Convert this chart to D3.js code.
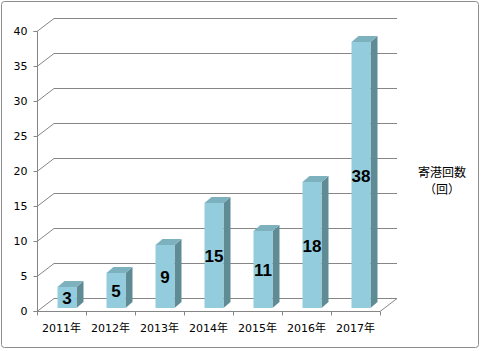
<!DOCTYPE html>
<html><head><meta charset="utf-8">
<script src="https://cdn.jsdelivr.net/npm/d3@7"></script>
<style>body{margin:0;background:#fff}</style>
</head><body>
<svg id="c" width="481" height="351"></svg>
<script>
const categories = ["2011年","2012年","2013年","2014年","2015年","2016年","2017年"];
const values = [3,5,9,15,11,18,38];
const yTicks = [0,5,10,15,20,25,30,35,40];
const seriesName = ["寄港回数","（回）"];

(function(){
const svg = d3.select("#c");
const font = "'DejaVu Sans','Noto Sans CJK JP',sans-serif";
const grid = "#868686";
const pLeft = 37, pRight = 380, pTop = 31, pBottom = 311;
const depth = {dx:17, dy:-13};

svg.append("rect").attr("x",1.5).attr("y",1.5).attr("width",477).attr("height",346)
  .attr("rx",3).attr("fill","#fff").attr("stroke","#8c8c8c").attr("stroke-width",1);

const x = d3.scaleBand().domain(categories).range([pLeft,pRight]).padding(0);
const y = d3.scaleLinear().domain([0,40]).range([pBottom,pTop]);

const g = svg.append("g");
yTicks.forEach(v=>{
  const yy = Math.round(y(v))+0.5;
  g.append("path").attr("d",`M${pLeft},${yy}L${pLeft+depth.dx},${yy+depth.dy}L${pRight+depth.dx},${yy+depth.dy}`)
   .attr("fill","none").attr("stroke",grid).attr("stroke-width",1);
});
g.append("path").attr("d",`M${pRight},${pBottom+0.5}L${pRight+depth.dx},${pBottom+0.5+depth.dy}`)
  .attr("stroke",grid).attr("fill","none");

const yAxis = d3.axisLeft(y).tickValues(yTicks).tickSize(4).tickPadding(6);
const ya = svg.append("g").attr("transform",`translate(${pLeft+0.5},0)`).call(yAxis);
ya.select(".domain").attr("stroke",grid).attr("d",`M-4,${Math.round(y(40))+0.5}H0V${pBottom+0.5}H-4`);
ya.selectAll(".tick line").attr("stroke",grid);
ya.selectAll(".tick text").attr("font-family",font).attr("font-size",11).attr("fill","#000");

const xa = svg.append("g").attr("transform",`translate(0,${pBottom+0.5})`);
xa.append("line").attr("x1",pLeft).attr("x2",pRight).attr("stroke",grid);
const bounds = categories.map(c=>x(c)).concat([pRight]);
xa.selectAll("line.t").data(bounds).join("line").attr("class","t")
  .attr("x1",d=>Math.round(d)+0.5).attr("x2",d=>Math.round(d)+0.5).attr("y1",0).attr("y2",4).attr("stroke",grid);
xa.selectAll("text").data(categories).join("text")
  .attr("x",d=>x(d)+x.bandwidth()/2).attr("y",17).attr("dominant-baseline","central")
  .attr("text-anchor","middle").attr("font-family",font).attr("font-size",11).attr("fill","#000")
  .text(d=>d);

const bw = 19, sd = 7, td = -6, shiftY = -3, shiftX = -4;
const bars = svg.append("g");
categories.forEach((c,i)=>{
  const v = values[i];
  const L = x(c)+x.bandwidth()/2+shiftX;
  const yt = y(v)+shiftY, yb = pBottom+shiftY;
  bars.append("path").attr("d",`M${L+bw},${yt}L${L+bw+sd},${yt+td}L${L+bw+sd},${yb+td}L${L+bw},${yb}Z`)
    .attr("fill","#5f8b95");
  bars.append("path").attr("d",`M${L},${yt}L${L+sd},${yt+td}L${L+bw+sd},${yt+td}L${L+bw},${yt}Z`)
    .attr("fill","#7eb1be");
  bars.append("rect").attr("x",L).attr("y",yt).attr("width",bw).attr("height",yb-yt).attr("fill","#93cddd");
  bars.append("text").attr("x",L+bw/2).attr("y",(yt+yb)/2+1).attr("text-anchor","middle")
    .attr("dominant-baseline","central").attr("font-family","'Liberation Sans',Arial,sans-serif")
    .attr("font-weight","bold").attr("font-size",17).attr("fill","#000").text(v);
});

svg.append("g").selectAll("text").data(seriesName).join("text")
  .attr("x",442).attr("y",(d,i)=>171+i*17).attr("text-anchor","middle").attr("dominant-baseline","central")
  .attr("font-family","'Noto Sans CJK JP',sans-serif").attr("font-size",12).attr("fill","#000").text(d=>d);
})();
</script>
</body></html>
